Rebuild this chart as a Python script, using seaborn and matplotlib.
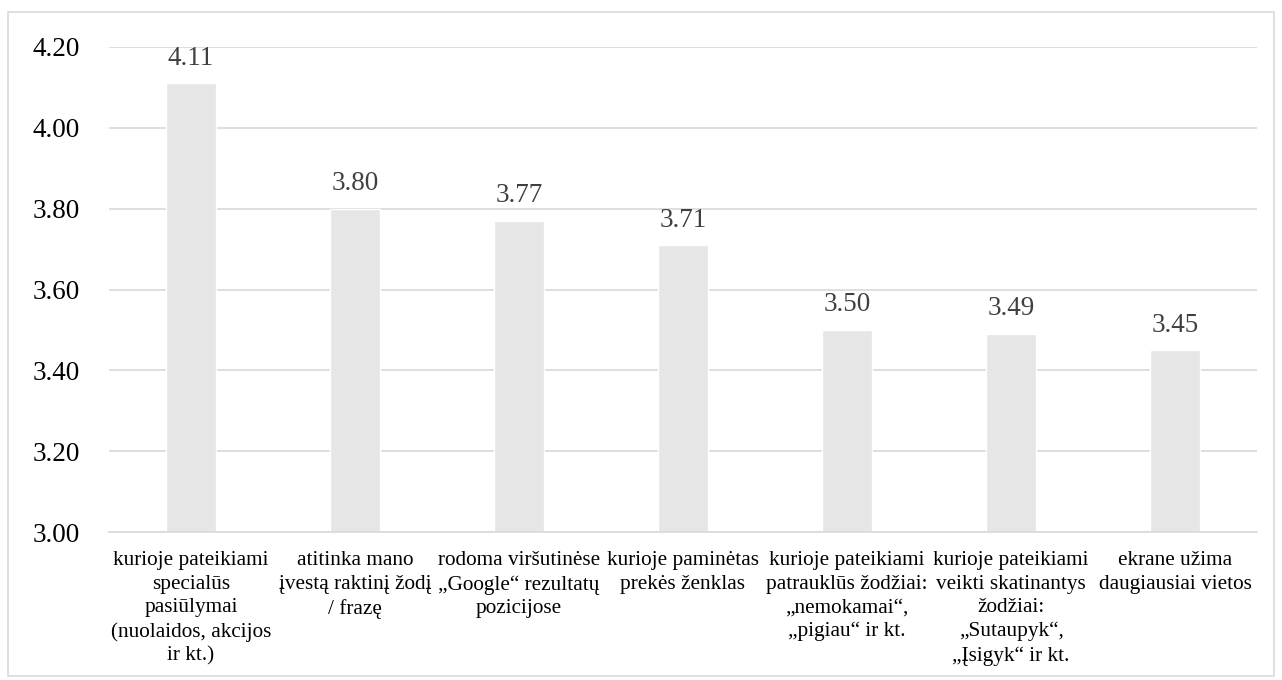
import matplotlib
matplotlib.use("Agg")
import matplotlib.pyplot as plt
import seaborn as sns
import pandas as pd
from matplotlib.patches import Rectangle

categories = [
    "kurioje pateikiami\nspecialūs\npasiūlymai\n(nuolaidos, akcijos\nir kt.)",
    "atitinka mano\nįvestą raktinį žodį\n/ frazę",
    "rodoma viršutinėse\n„Google“ rezultatų\npozicijose",
    "kurioje paminėtas\nprekės ženklas",
    "kurioje pateikiami\npatrauklūs žodžiai:\n„nemokamai“,\n„pigiau“ ir kt.",
    "kurioje pateikiami\nveikti skatinantys\nžodžiai:\n„Sutaupyk“,\n„Įsigyk“ ir kt.",
    "ekrane užima\ndaugiausiai vietos",
]
values = [4.11, 3.80, 3.77, 3.71, 3.50, 3.49, 3.45]
yticks = [3.00, 3.20, 3.40, 3.60, 3.80, 4.00, 4.20]

sns.set_theme(style="white")
plt.rcParams['font.family'] = ['Liberation Serif', 'DejaVu Serif']

df = pd.DataFrame({"cat": categories, "val": values})

fig = plt.figure(figsize=(12.82, 6.80), dpi=100)
ax = fig.add_axes([109/1282, 1 - 532/680, (1257-109)/1282, (532-47)/680])

sns.barplot(data=df, x="cat", y="val", color="#e6e6e6", width=0.30, ax=ax,
            saturation=1, zorder=2)
ax.set_ylim(3.0, 4.2)
ax.set_xlim(-0.5, len(categories) - 0.5)
ax.set_yticks(yticks)
ax.set_yticklabels([f"{t:.2f}" for t in yticks], fontsize=19.5, color="#000000")
ax.set_xticks(range(len(categories)))
ax.set_xticklabels(categories, fontsize=15.3, color="#000000", linespacing=1.32)
ax.tick_params(axis='x', length=0, pad=14)
ax.tick_params(axis='y', length=0, pad=21)
ax.set_xlabel("")
ax.set_ylabel("")
ax.yaxis.grid(True, color="#d9d9d9", linewidth=1.2, zorder=0)
ax.set_axisbelow(True)
for s in ["top", "right", "left"]:
    ax.spines[s].set_visible(False)
ax.spines["bottom"].set_color("#d9d9d9")
ax.spines["bottom"].set_linewidth(1.2)

for i, v in enumerate(values):
    ax.annotate(f"{v:.2f}", (i, v), xytext=(0, 9), textcoords="offset points",
                ha="center", va="bottom", fontsize=19.5, color="#404040")

fig.patches.append(Rectangle((8/1282, 1 - 676/680), (1274-8)/1282, (676-12)/680,
                             transform=fig.transFigure, fill=False,
                             edgecolor="#d9d9d9", linewidth=1.2))

fig.savefig("out.png", dpi=100, facecolor="white")
